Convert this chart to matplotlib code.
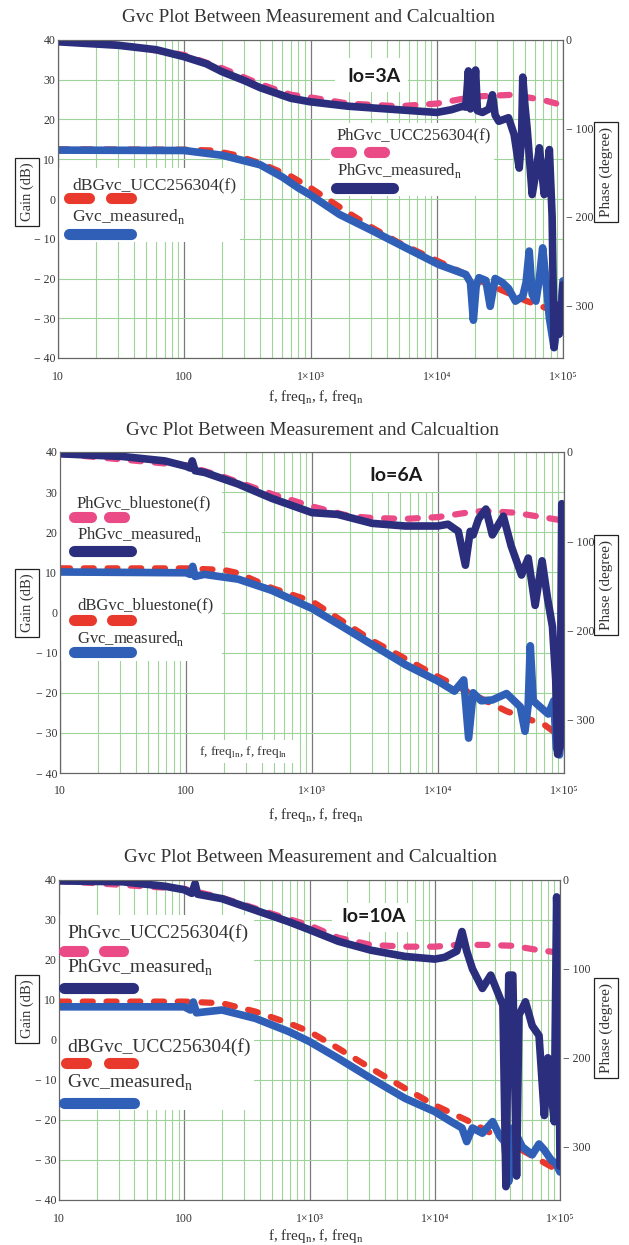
import numpy as np
import matplotlib
matplotlib.use('Agg')
import matplotlib.pyplot as plt
from matplotlib.patches import Rectangle
from matplotlib.lines import Line2D
from matplotlib.ticker import LogLocator, NullFormatter

plt.rcParams['font.family'] = ['Liberation Serif', 'DejaVu Serif']
plt.rcParams['mathtext.fontset'] = 'custom'
plt.rcParams['mathtext.rm'] = 'Liberation Serif'

title = 'Gvc Plot Between Measurement and Calcualtion'
x_ticks = [10, 100, 1e3, 1e4, 1e5]
x_tick_labels = ['10', '100', '1×10³', '1×10⁴', '1×10⁵']
gain_ticks = [40, 30, 20, 10, 0, -10, -20, -30, -40]
gain_tick_labels = ['40', '30', '20', '10', '0', '− 10', '− 20', '− 30', '− 40']
phase_ticks = [0, -100, -200, -300]
phase_tick_labels = ['0', '− 100', '− 200', '− 300']

# ---- Io = 3A ----
f_gain_calc_3A = [10, 100, 170, 250, 400, 700, 1000, 2000, 3000, 5000, 10000, 20000, 50000, 100000]
gain_calc_3A = [12.5, 12.4, 12.2, 11.1, 9.0, 5.7, 2.8, -3.5, -7.0, -11.0, -15.5, -20.0, -25.5, -29.0]
f_gain_meas_3A = [10, 100, 200, 400, 600, 800, 1000, 1700, 3100, 5700, 10400, 17000, 18500, 19500,
                  20500, 21600, 24500, 26500, 29000, 33000, 37000, 42000, 48000, 51000, 54000, 57000,
                  61000, 65000, 69000, 73000, 78000, 85000, 89000, 93000, 100000]
gain_meas_3A = [12.3, 12.2, 11.0, 8.6, 5.5, 2.8, 1.0, -3.9, -8.0, -12.3, -16.5, -19.0, -21.0, -30.5,
                -22.0, -19.8, -20.5, -27.0, -20.0, -21.0, -22.5, -25.7, -24.5, -21.0, -13.1, -24.0,
                -25.7, -20.0, -12.3, -20.0, -29.9, -37.4, -33.0, -34.0, -20.6]
f_ph_calc_3A = [10, 30, 100, 200, 400, 700, 1000, 2000, 5000, 10000, 20000, 40000, 70000, 100000]
ph_calc_3A = [-2, -5, -17, -32, -50, -62, -65, -72, -75, -72, -64, -62, -68, -74]
f_ph_meas_3A = [10, 30, 60, 100, 150, 200, 300, 400, 700, 1000, 2000, 5000, 10000, 13000, 16000,
                17000, 17800, 18500, 19500, 20300, 21000, 23000, 26000, 27600, 29000, 31000, 37000,
                41000, 45000, 47000, 48000, 50000, 52000, 57000, 61000, 65000, 71000, 75000, 78000,
                82000, 85000, 88000, 93000, 97000, 100000]
ph_meas_3A = [-2, -6, -11, -19, -27, -36, -46, -54, -66, -70, -75, -79, -82, -79, -75,
              -76, -35, -78, -75, -34, -80, -82, -78, -62, -85, -92, -88,
              -107, -145, -110, -42, -75, -100, -175, -150, -122, -175, -150, -124,
              -200, -348, -300, -333, -310, -277]

# ---- Io = 6A ----
f_gain_calc_6A = [10, 100, 200, 260, 480, 1000, 1600, 3000, 5500, 10000, 15000, 35000, 70000, 90000]
gain_calc_6A = [11.0, 11.0, 10.6, 9.8, 6.1, 2.8, -1.4, -7.0, -11.5, -16.0, -18.8, -24.6, -28.0, -30.5]
f_gain_meas_6A = [10, 100, 108, 113, 118, 140, 260, 480, 1000, 1600, 3000, 5500, 10000, 13500, 16000,
                  17500, 19000, 22000, 27000, 35000, 45000, 49000, 52000, 54000, 57000, 65000, 75000,
                  83000, 87000, 92000, 96000, 100000]
gain_meas_6A = [10.1, 9.9, 9.5, 11.5, 9.0, 9.5, 8.3, 5.5, 1.0, -2.8, -8.0, -13.0, -17.1, -19.6, -16.8,
                -31.3, -20.0, -22.0, -21.8, -20.2, -23.5, -29.6, -23.0, -8.3, -22.0, -23.6, -25.3,
                -22.0, -33.8, -35.5, -30.0, -26.0]
f_ph_calc_6A = [10, 100, 200, 500, 1000, 2000, 3000, 5500, 10000, 17000, 23000, 40000, 67000, 90000]
ph_calc_6A = [-2, -15, -28, -48, -61, -72, -74, -75, -73, -68, -66, -68, -73, -76]
f_ph_meas_6A = [10, 31, 68, 100, 108, 112, 118, 141, 260, 480, 1000, 1600, 3000, 5500, 10000, 12000,
                14500, 16500, 18000, 19000, 21000, 24000, 27000, 33000, 38000, 46000, 52000, 59000,
                67000, 74000, 81000, 86000, 89000, 93000, 96000, 98000]
ph_meas_6A = [-2, -5, -10, -16, -18, -10, -21, -23, -36, -52, -68, -70, -80, -83, -83, -81,
              -89, -127, -89, -93, -75, -64, -93, -72, -105, -138, -119, -172,
              -122, -164, -196, -256, -339, -330, -58, -70]

# ---- Io = 10A ----
f_gain_calc_10A = [10, 100, 200, 370, 684, 1000, 1700, 3100, 5800, 10000, 19000, 47000, 100000]
gain_calc_10A = [9.6, 9.6, 9.2, 7.1, 4.2, 2.1, -2.1, -7.1, -12.1, -16.3, -20.4, -27.1, -32.9]
f_gain_meas_10A = [10, 100, 112, 118, 125, 200, 370, 684, 1000, 1700, 3100, 5800, 10000, 13500, 16500,
                   18000, 20000, 24000, 29000, 33000, 36000, 39000, 42000, 50000, 60000, 68000, 75000,
                   85000, 93000, 100000]
gain_meas_10A = [8.3, 8.3, 7.5, 9.5, 6.8, 7.5, 5.4, 2.1, -0.4, -4.6, -9.6, -14.6, -17.9, -20.4, -22.0,
                 -25.4, -22.0, -23.3, -20.4, -24.0, -25.4, -35.4, -22.0, -26.7, -28.7, -26.0, -27.5,
                 -30.0, -30.9, -33.0]
f_ph_calc_10A = [10, 100, 200, 370, 684, 1000, 1700, 3100, 5800, 10000, 15000, 25000, 42000, 68000, 90000]
ph_calc_10A = [-1, -10, -20, -32, -44, -51, -65, -73, -75, -75, -73, -73, -74, -79, -81]
f_ph_meas_10A = [10, 32, 70, 100, 115, 122, 128, 200, 370, 684, 1000, 1700, 3100, 5800, 10000, 12000,
                 15000, 16500, 18000, 20000, 24000, 28000, 35000, 37000, 39000, 42000, 45000, 47000,
                 53000, 60000, 68000, 75000, 80000, 85000, 90000, 94000, 97000, 100000]
ph_meas_10A = [-1, -2, -7, -11, -15, -4, -16, -21, -34, -47, -56, -69, -79, -86, -89, -87,
               -80, -58, -80, -100, -122, -107, -141, -345, -107, -107, -333, -152,
               -137, -164, -175, -265, -200, -238, -272, -19, -100, -322]

C_GAIN_CALC = '#e8392c'
C_GAIN_MEAS = '#2f5fb7'
C_PH_CALC = '#ea4a86'
C_PH_MEAS = '#2b2e7c'
C_GRID = '#9ed49a'
C_DECADE = '#7a7a7a'
C_TEXT = '#333333'

W, H = 629, 1245
fig = plt.figure(figsize=(W / 100, H / 100), dpi=100)


def fx(x):
    return x / W


def fy(y):
    return 1 - y / H


def white_box(ax, x0, y0, x1, y1):
    ax.add_patch(Rectangle((fx(x0), fy(y1)), (x1 - x0) / W, (y1 - y0) / H,
                           transform=fig.transFigure, facecolor='white',
                           edgecolor='none', zorder=1))


def sample(x0, x1, y, color, lw=6):
    fig.add_artist(Line2D([fx(x0), fx(x1)], [fy(y), fy(y)], color=color, lw=lw,
                          solid_capstyle='round', transform=fig.transFigure))


def legend_text(x, y, s, size):
    fig.text(fx(x), fy(y), s, ha='left', va='center', fontsize=size, color=C_TEXT)


def draw_panel(left, top, right, bottom, data, io_label, io_xy, boxes):
    (fgc, gc, fgm, gm, fpc, pc, fpm, pm) = data
    ax = fig.add_axes([fx(left), fy(bottom), (right - left) / W, (bottom - top) / H])
    ax.set_xscale('log')
    ax.set_xlim(10, 1e5)
    ax.set_ylim(-40, 40)
    ax.set_xticks(x_ticks, x_tick_labels)
    ax.xaxis.set_minor_locator(LogLocator(base=10, subs=np.arange(2, 10)))
    ax.xaxis.set_minor_formatter(NullFormatter())
    ax.set_yticks(gain_ticks, gain_tick_labels)
    ax.tick_params(which='both', length=0, labelsize=8.5, colors=C_TEXT)
    ax.tick_params(axis='x', pad=9)
    ax.tick_params(axis='y', pad=2)
    ax.set_axisbelow(True)
    ax.grid(True, which='major', axis='y', color=C_GRID, lw=0.8)
    ax.grid(True, which='minor', axis='x', color=C_GRID, lw=0.8)
    ax.grid(True, which='major', axis='x', color=C_DECADE, lw=0.9)
    for s in ax.spines.values():
        s.set_color('#666666')
    for b in boxes:
        white_box(ax, *b)

    ax.plot(fgc, gc, color=C_GAIN_CALC, lw=4.5, dashes=(1.6, 2.2),
            dash_capstyle='round', zorder=2)
    ax.plot(fgm, gm, color=C_GAIN_MEAS, lw=5.5, solid_joinstyle='round',
            solid_capstyle='round', zorder=2)

    ax2 = ax.twinx()
    ax2.set_ylim(-360, 0)
    ax2.set_yticks(phase_ticks, phase_tick_labels)
    ax2.tick_params(length=0, labelsize=8.5, colors=C_TEXT, pad=2)
    for s in ax2.spines.values():
        s.set_color('#666666')
    ax2.plot(fpc, pc, color=C_PH_CALC, lw=4.5, dashes=(1.6, 2.2),
             dash_capstyle='round', zorder=2)
    ax2.plot(fpm, pm, color=C_PH_MEAS, lw=5.5, solid_joinstyle='round',
             solid_capstyle='round', zorder=2)

    fig.text(fx(io_xy[0]), fy(io_xy[1]), io_label, ha='center', va='center',
             fontsize=14, fontweight='bold', family='Lato', color='#1a1a1a')
    return ax


xlabel = r'f, freq$_\mathregular{n}$, f, freq$_\mathregular{n}$'

# panel 1
draw_panel(58, 40, 563, 358,
           (f_gain_calc_3A, gain_calc_3A, f_gain_meas_3A, gain_meas_3A,
            f_ph_calc_3A, ph_calc_3A, f_ph_meas_3A, ph_meas_3A),
           'Io=3A', (374, 76),
           [(58, 168, 240, 242), (335, 58, 408, 92), (330, 123, 494, 196)])
fig.text(fx(309), fy(18), title, ha='center', va='center', fontsize=13.8, color=C_TEXT)
legend_text(72, 185, 'dBGvc_UCC256304(f)', 12.6)
sample(69, 89, 198, C_GAIN_CALC, 8)
sample(111, 131, 198, C_GAIN_CALC, 8)
legend_text(72, 217, r'Gvc_measured$_\mathregular{n}$', 12.6)
sample(69, 131, 234, C_GAIN_MEAS, 8)
legend_text(337, 135, 'PhGvc_UCC256304(f)', 12)
sample(336, 351, 152, C_PH_CALC, 8)
sample(369, 384, 152, C_PH_CALC, 8)
legend_text(337, 170, r'PhGvc_measured$_\mathregular{n}$', 12)
sample(336, 393, 188, C_PH_MEAS, 8)
fig.text(fx(316), fy(397), xlabel, ha='center', va='center', fontsize=11, color=C_TEXT)

# panel 2
draw_panel(60, 452, 564, 773,
           (f_gain_calc_6A, gain_calc_6A, f_gain_meas_6A, gain_meas_6A,
            f_ph_calc_6A, ph_calc_6A, f_ph_meas_6A, ph_meas_6A),
           'Io=6A', (396, 475),
           [(60, 452, 222, 661), (358, 452, 435, 492), (190, 740, 296, 763)])
fig.text(fx(313), fy(430), title, ha='center', va='center', fontsize=13.8, color=C_TEXT)
legend_text(77, 503, 'PhGvc_bluestone(f)', 12)
sample(74, 91, 517, C_PH_CALC, 8)
sample(109, 124, 517, C_PH_CALC, 8)
legend_text(77, 535, r'PhGvc_measured$_\mathregular{n}$', 12)
sample(74, 131, 551, C_PH_MEAS, 8)
legend_text(77, 605, 'dBGvc_bluestone(f)', 12)
sample(74, 91, 620, C_GAIN_CALC, 8)
sample(112, 131, 620, C_GAIN_CALC, 8)
legend_text(77, 638, r'Gvc_measured$_\mathregular{n}$', 12)
sample(74, 131, 652, C_GAIN_MEAS, 8)
fig.text(fx(243), fy(752), r'f, freq$_\mathregular{ln}$, f, freq$_\mathregular{ln}$',
         ha='center', va='center', fontsize=9.5, color=C_TEXT)
fig.text(fx(316), fy(815), xlabel, ha='center', va='center', fontsize=11, color=C_TEXT)

# panel 3
draw_panel(59, 880, 560, 1200,
           (f_gain_calc_10A, gain_calc_10A, f_gain_meas_10A, gain_meas_10A,
            f_ph_calc_10A, ph_calc_10A, f_ph_meas_10A, ph_meas_10A),
           'Io=10A', (374, 917),
           [(59, 915, 254, 1110), (332, 903, 415, 932)])
fig.text(fx(310), fy(858), title, ha='center', va='center', fontsize=13.8, color=C_TEXT)
legend_text(67, 933, 'PhGvc_UCC256304(f)', 14)
sample(64, 83, 951, C_PH_CALC, 8)
sample(104, 123, 951, C_PH_CALC, 8)
legend_text(67, 968, r'PhGvc_measured$_\mathregular{n}$', 14)
sample(64, 133, 988, C_PH_MEAS, 8)
legend_text(67, 1047, 'dBGvc_UCC256304(f)', 14)
sample(66, 86, 1063, C_GAIN_CALC, 8)
sample(109, 133, 1063, C_GAIN_CALC, 8)
legend_text(67, 1083, r'Gvc_measured$_\mathregular{n}$', 14)
sample(64, 134, 1103, C_GAIN_MEAS, 8)
fig.text(fx(316), fy(1236), xlabel, ha='center', va='center', fontsize=11, color=C_TEXT)

# boxed axis titles
box = dict(boxstyle='square,pad=0.35', facecolor='white', edgecolor='#222222', lw=0.9)
for yc in (192, 603, 1009):
    fig.text(fx(27), fy(yc), 'Gain (dB)', rotation=90, ha='center', va='center',
             fontsize=10.5, color=C_TEXT, bbox=box, zorder=10)
for yc in (172, 585, 1028):
    fig.text(fx(606), fy(yc), 'Phase (degree)', rotation=90, ha='center', va='center',
             fontsize=11, color=C_TEXT, bbox=box, zorder=10)

fig.savefig('out.png', dpi=100)
